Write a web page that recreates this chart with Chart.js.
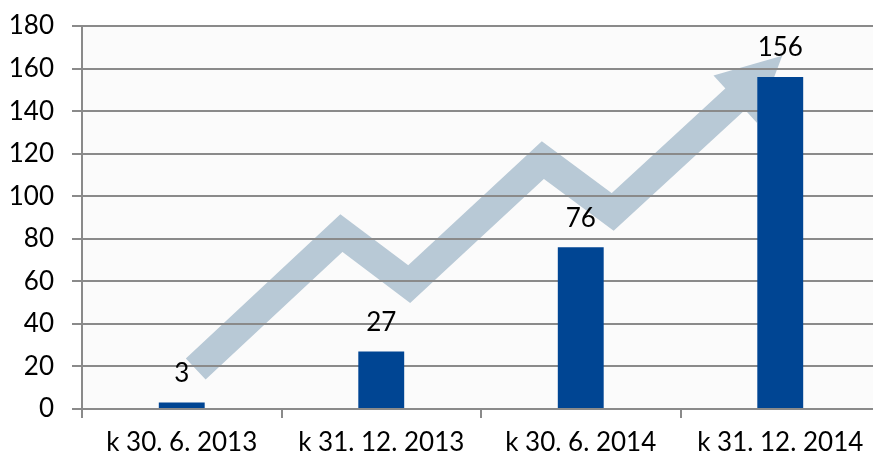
<!DOCTYPE html>
<html>
<head>
<meta charset="utf-8">
<script src="https://cdn.jsdelivr.net/npm/chart.js@4"></script>
<style>
  html, body { margin: 0; padding: 0; background: #fff; overflow: hidden; }
  #wrap { width: 880px; height: 456px; }
</style>
</head>
<body>
<div id="wrap"><canvas id="chart"></canvas></div>
<script>
// data
const categories = ["k 30. 6. 2013", "k 31. 12. 2013", "k 30. 6. 2014", "k 31. 12. 2014"];
const values = [3, 27, 76, 156];
const yMax = 180;
const yStep = 20;

// decorative trend arrow, in axis units (category index, value)
const arrowX = [0.07, 0.80, 1.14, 1.81, 2.16, 3.01];
const arrowY = [18.8, 82.7, 58.7, 117, 92.6, 166];

const FONT = "Lato, 'DejaVu Sans', sans-serif";
const FSIZE = 26;

// fond + sipka pod mrizkou
const backdrop = {
    id: "backdrop",
    beforeDraw(chart) {
        const { ctx, chartArea: a, scales } = chart;
        ctx.save();
        ctx.fillStyle = "#fbfbfb";
        ctx.fillRect(a.left, a.top, a.right - a.left, a.bottom - a.top);

        const pts = arrowX.map((x, i) => [scales.x.getPixelForValue(x), scales.y.getPixelForValue(arrowY[i])]);
        const tip = pts[pts.length - 1];
        const prev = pts[pts.length - 2];
        const dx = tip[0] - prev[0], dy = tip[1] - prev[1];
        const len = Math.hypot(dx, dy);
        const ux = dx / len, uy = dy / len;
        const nx = -uy, ny = ux;
        const headLen = 64, headHalf = 32;
        const base = [tip[0] - ux * headLen, tip[1] - uy * headLen];

        ctx.strokeStyle = "#b8c9d6";
        ctx.fillStyle = "#b8c9d6";
        ctx.lineWidth = 29;
        ctx.lineJoin = "miter";
        ctx.miterLimit = 10;
        ctx.lineCap = "butt";
        ctx.beginPath();
        ctx.moveTo(pts[0][0], pts[0][1]);
        for (let i = 1; i < pts.length - 1; i++) ctx.lineTo(pts[i][0], pts[i][1]);
        ctx.lineTo(base[0] + ux, base[1] + uy);
        ctx.stroke();

        ctx.beginPath();
        ctx.moveTo(tip[0], tip[1]);
        ctx.lineTo(base[0] + nx * headHalf, base[1] + ny * headHalf);
        ctx.lineTo(base[0] - nx * headHalf, base[1] - ny * headHalf);
        ctx.closePath();
        ctx.fill();
        ctx.restore();
    }
};

// popisky hodnot nad sloupci
const valueLabels = {
    id: "valueLabels",
    afterDatasetsDraw(chart) {
        const { ctx } = chart;
        const meta = chart.getDatasetMeta(0);
        ctx.save();
        ctx.font = FSIZE + "px " + FONT;
        ctx.fillStyle = "#000";
        ctx.textAlign = "center";
        ctx.textBaseline = "middle";
        meta.data.forEach((bar, i) => {
            ctx.fillText(String(values[i]), bar.x, bar.y - 29);
        });
        ctx.restore();
    }
};

new Chart(document.getElementById("chart"), {
    type: "bar",
    data: {
        labels: categories,
        datasets: [{
            data: values,
            backgroundColor: "#004593",
            barPercentage: 0.23,
            categoryPercentage: 1
        }]
    },
    options: {
        responsive: true,
        maintainAspectRatio: false,
        animation: false,
        layout: { padding: { top: 26, left: 8, right: 0, bottom: 0 } },
        plugins: { legend: { display: false }, tooltip: { enabled: false } },
        scales: {
            x: {
                grid: { offset: true, drawOnChartArea: false, color: "#8a8a8a", lineWidth: 2, tickLength: 9 },
                border: { display: false },
                ticks: { color: "#000", font: { family: FONT, size: FSIZE }, padding: 9, maxRotation: 0, autoSkip: false },
                afterFit(scale) { scale.height = 47; }
            },
            y: {
                min: 0,
                max: yMax,
                grid: { color: "#8a8a8a", lineWidth: 2, tickLength: 10 },
                border: { color: "#8a8a8a", width: 2 },
                ticks: { stepSize: yStep, color: "#000", font: { family: FONT, size: FSIZE }, padding: 18 },
                afterFit(scale) {
                    scale.width = 74;
                    scale.paddingTop = 0;
                    scale.paddingBottom = 0;
                }
            }
        }
    },
    plugins: [backdrop, valueLabels]
});
</script>
</body>
</html>
